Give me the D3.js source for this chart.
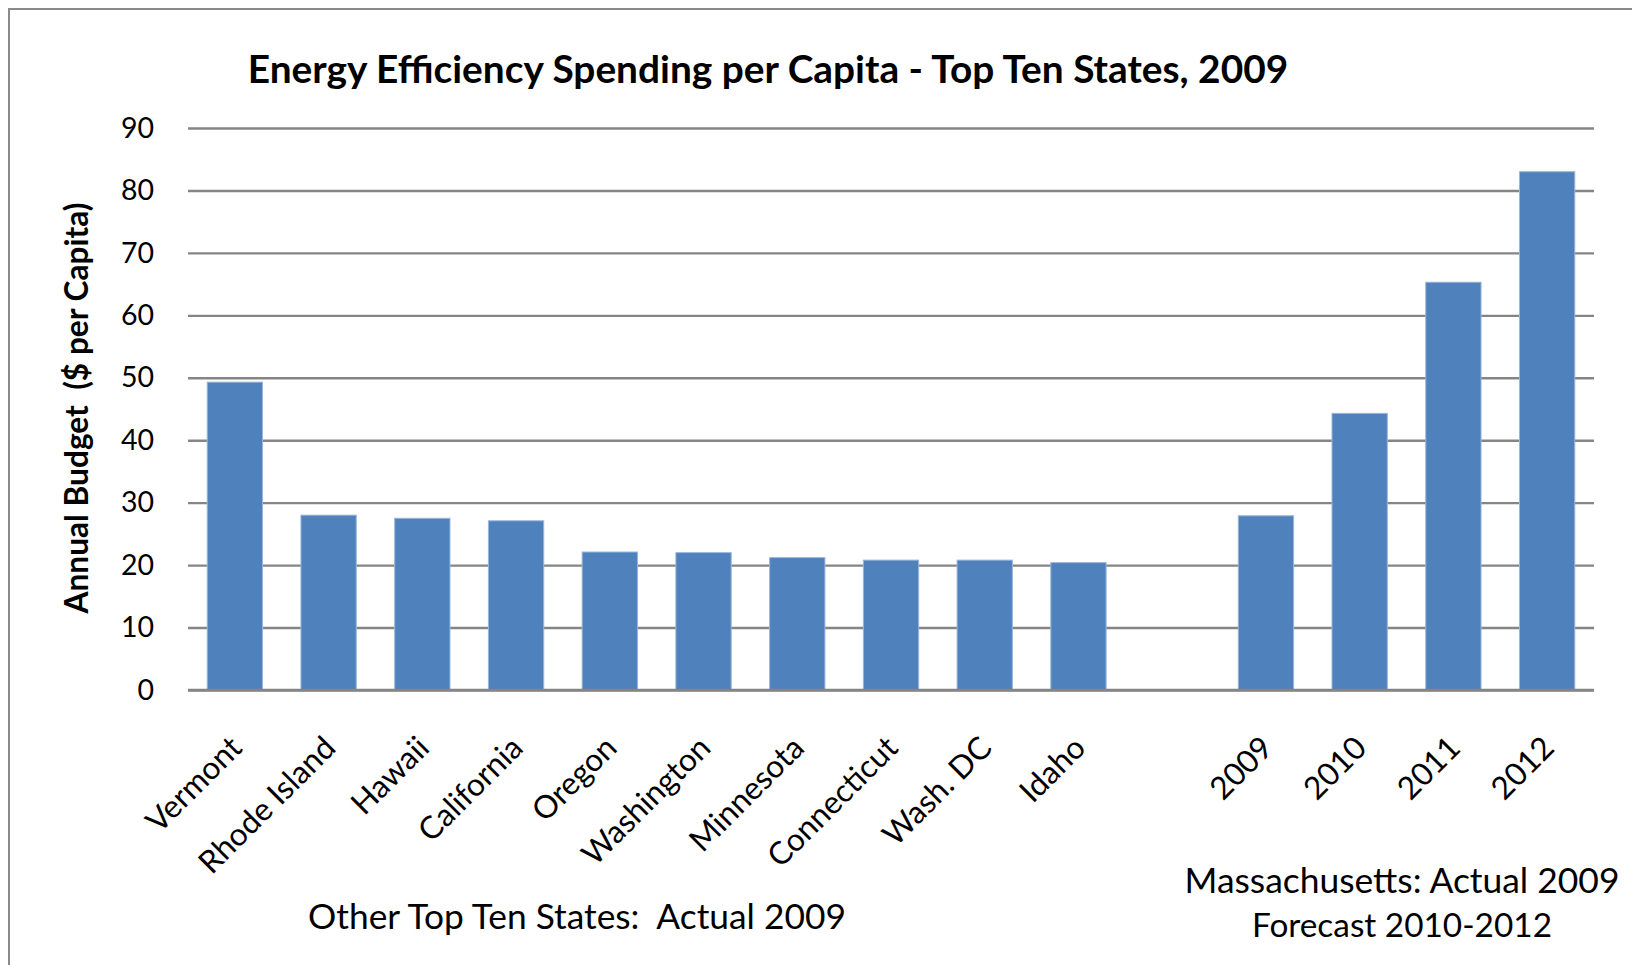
<!DOCTYPE html>
<html><head><meta charset="utf-8">
<script src="https://cdn.jsdelivr.net/npm/d3@7"></script>
<style>body{margin:0;background:#fff}svg{display:block}text{font-family:Lato,"Open Sans",sans-serif;fill:#000}</style>
</head><body>
<svg id="c" width="1632" height="965"></svg>
<script>
const categories = ["Vermont","Rhode Island","Hawaii","California","Oregon","Washington","Minnesota","Connecticut","Wash. DC","Idaho","","2009","2010","2011","2012"];
const values = [49.3,28.0,27.5,27.1,22.1,22.0,21.2,20.8,20.8,20.4,null,27.9,44.3,65.3,83.0];
const yTicks = [0,10,20,30,40,50,60,70,80,90];
const titleText = "Energy Efficiency Spending per Capita - Top Ten States, 2009";
const yTitleText = "Annual Budget  ($ per Capita)";
const noteLeft = ["Other Top Ten States:  Actual 2009"];
const noteRight = ["Massachusetts: Actual 2009","Forecast 2010-2012"];

(function(){
const svg = d3.select("#c");
const W = 1632, H = 965;
const pL = 188, pR = 1594, pT = 128, pB = 690;

function fit(sel, target){
  const n = sel.node(); const fs = parseFloat(sel.attr("font-size"));
  const len = n.getComputedTextLength();
  sel.attr("font-size", (fs*target/len).toFixed(2));
}

svg.append("rect").attr("x",9).attr("y",9).attr("width",W).attr("height",H)
  .attr("fill","#fff").attr("stroke","#8a8a8a").attr("stroke-width",2);

const x = d3.scaleBand().domain(categories).range([pL,pR]).paddingInner(0.41).paddingOuter(0.205);
const y = d3.scaleLinear().domain([0,90]).range([pB,pT]);

const yAxis = d3.axisLeft(y).tickValues(yTicks).tickSize(-(pR-pL)).tickPadding(34).tickFormat(d3.format("d"));
const gy = svg.append("g").attr("transform",`translate(${pL},0)`).call(yAxis);
gy.select(".domain").remove();
gy.selectAll(".tick line").attr("stroke","#858585").attr("stroke-width",2.4);
gy.selectAll(".tick text").attr("font-size",28.5).attr("font-family","Lato").attr("fill","#000");

svg.append("g").selectAll("rect").data(categories.map((c,i)=>({c,v:values[i]})).filter(d=>d.v!=null))
  .join("rect")
  .attr("x",d=>x(d.c)).attr("width",x.bandwidth())
  .attr("y",d=>y(d.v)).attr("height",d=>y(0)-y(d.v))
  .attr("fill","#4f81bd").attr("stroke","#9ab6da").attr("stroke-width",1);

const xAxis = d3.axisBottom(x).tickSize(0).tickPadding(0);
const gx = svg.append("g").attr("transform",`translate(0,${pB})`).call(xAxis);
gx.select(".domain").attr("stroke","#858585").attr("stroke-width",2.4).attr("d",`M${pL},0H${pR}`);
gx.selectAll(".tick text")
  .attr("font-size",31.5).attr("font-family","Lato").attr("fill","#000")
  .attr("text-anchor","end").attr("dy","0.35em")
  .attr("transform",`translate(1,52) rotate(-45)`);

const t = svg.append("text").attr("x",768).attr("y",83).attr("text-anchor","middle")
  .attr("font-weight","bold").attr("font-size",34).text(titleText);
fit(t,1041);

const yt = svg.append("text").attr("transform","translate(76,408) rotate(-90)")
  .attr("text-anchor","middle").attr("dominant-baseline","central")
  .attr("font-weight","bold").attr("font-size",26).style("white-space","pre").text(yTitleText);
fit(yt,411);

const nl = svg.append("text").attr("x",577).attr("y",929).attr("text-anchor","middle")
  .attr("font-size",32).style("white-space","pre").text(noteLeft[0]);
fit(nl,538);
noteRight.forEach((s,i)=>{
  const tt = svg.append("text").attr("x",1402).attr("y",893+i*44).attr("text-anchor","middle")
    .attr("font-size",32).text(s);
  fit(tt, i===0?435:300);
});
})();
</script>
</body></html>
